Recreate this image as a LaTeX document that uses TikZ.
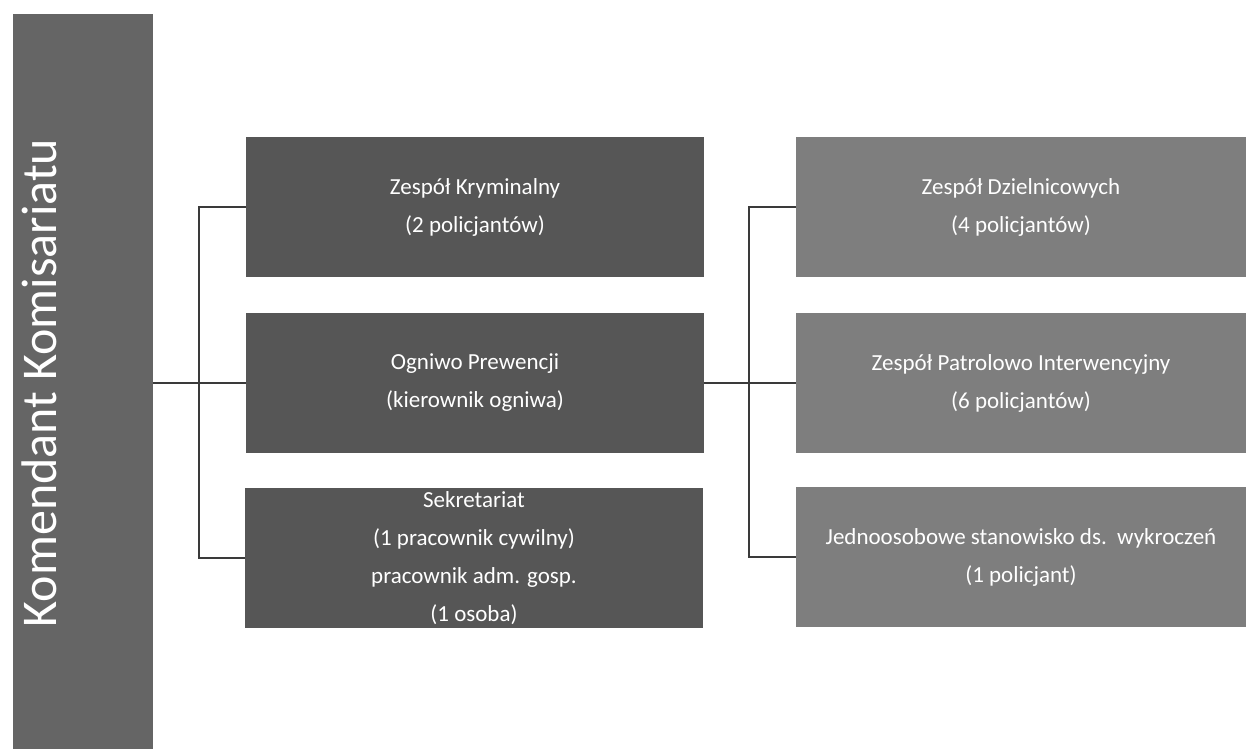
\documentclass[tikz,border=0pt]{standalone}
\usepackage{fontspec}
\setmainfont{Carlito}
\definecolor{leftgray}{HTML}{656565}
\definecolor{midgray}{HTML}{565656}
\definecolor{rightgray}{HTML}{7E7E7E}
\definecolor{linegray}{HTML}{3A3A3A}
\tikzset{
  unitbox/.style={rectangle, inner sep=0pt, outer sep=0pt, minimum height=140pt,
    text=white, align=center, font=\fontsize{23}{38}\selectfont},
  midbox/.style={unitbox, fill=midgray, minimum width=458pt},
  rightbox/.style={unitbox, fill=rightgray, minimum width=450pt},
  conn/.style={draw=linegray, line width=1.2pt}
}
\begin{document}
\begin{tikzpicture}[x=1pt,y=-1pt]
\useasboundingbox[fill=white] (0,0) rectangle (1246,748);
% left column
\node[rectangle, fill=leftgray, inner sep=0pt, outer sep=0pt, minimum width=140pt, minimum height=740pt] (kom) at (83,384) {};
\node[anchor=base, rotate=90, text=white, inner sep=0pt, font=\fontsize{50}{60}\selectfont] (komtxt) at (56,383) {Komendant Komisariatu};
% middle column
\node[midbox] (m1) at (475,207) {Zespół Kryminalny\\(2 policjantów)};
\node[midbox] (m2) at (475,383) {Ogniwo Prewencji\\(kierownik ogniwa)};
\node[midbox] (m3) at (474,558) {Sekretariat\\(1 pracownik cywilny)\\pracownik adm. gosp.\\(1 osoba)};
% right column
\node[rightbox] (r1) at (1021,207) {Zespół Dzielnicowych\\(4 policjantów)};
\node[rightbox] (r2) at (1021,383) {Zespół Patrolowo Interwencyjny\\(6 policjantów)};
\node[rightbox] (r3) at (1021,557) {Jednoosobowe stanowisko ds.\ \ wykroczeń\\(1 policjant)};
% bus coordinates
\coordinate (busL) at (199,383);
\coordinate (busR) at (749,383);
% left connectors
\draw[conn] (kom.east |- m2.west) -- (m2.west);
\draw[conn] (m1.west) -- (busL |- m1.west) -- (busL |- m3.west) -- (m3.west);
% right connectors
\draw[conn] (m2.east) -- (r2.west);
\draw[conn] (r1.west) -- (busR |- r1.west) -- (busR |- r3.west) -- (r3.west);
\end{tikzpicture}
\end{document}
